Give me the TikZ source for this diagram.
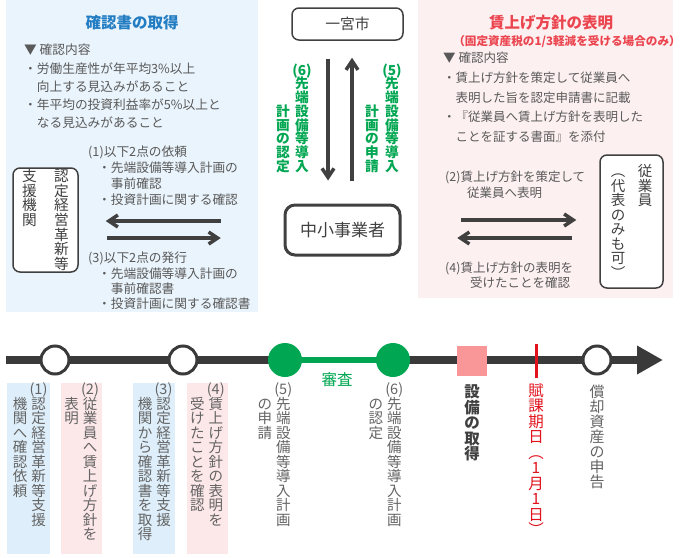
\documentclass[tikz,border=0pt]{standalone}
\usepackage{fontspec}
\setmainfont{Noto Sans CJK JP}
\usetikzlibrary{arrows.meta,positioning}

\definecolor{panelblue}{RGB}{234,244,252}
\definecolor{stripblue}{RGB}{222,239,251}
\definecolor{panelpink}{RGB}{253,240,241}
\definecolor{strippink}{RGB}{252,231,233}
\definecolor{titleblue}{RGB}{35,125,195}
\definecolor{titlered}{RGB}{235,70,80}
\definecolor{okgreen}{RGB}{0,166,81}
\definecolor{inkgray}{RGB}{64,64,64}
\definecolor{textgray}{RGB}{89,89,89}
\definecolor{labelgray}{RGB}{100,100,100}
\definecolor{linegray}{RGB}{58,58,58}
\definecolor{acqpink}{RGB}{249,150,152}
\definecolor{taxred}{RGB}{225,20,30}

% 縦書き
\ExplSyntaxOn
\NewDocumentCommand \tate { O{1em} m }
  {
    \vtop
      {
        \baselineskip = #1 \relax
        \lineskiplimit = -\maxdimen
        \tl_map_inline:nn {#2} { \hbox_to_wd:nn {1em} { \hss ##1 \hss } }
      }
  }
\ExplSyntaxOff

\begin{document}
\begin{tikzpicture}[
    x=1pt, y=-1pt,
    every node/.style={inner sep=0pt},
    paneltitle/.style={font=\fontsize{15.5pt}{18pt}\selectfont\bfseries},
    body/.style={anchor=north west, align=left, text=textgray},
    orgbox/.style={draw=inkgray, line width=1.5pt, rounded corners=7pt, fill=white, text=inkgray},
    bigarrow/.style={line width=3.5pt, draw=inkgray, -{Straight Barb[length=9pt,width=12pt]}},
    greentate/.style={anchor=base, text=okgreen, font=\fontsize{13.7pt}{13.7pt}\selectfont\bfseries},
    tlabel/.style={anchor=base, text=labelgray, font=\fontsize{14.5pt}{14.5pt}\selectfont},
    opendot/.style={circle, draw=linegray, line width=3pt, fill=white, minimum size=28pt},
    greendot/.style={circle, fill=okgreen, minimum size=34pt}
]
\useasboundingbox (0,0) rectangle (690,557);

% パネル
\fill[panelblue] (6,0) rectangle (258,312);
\fill[panelpink] (418,0) rectangle (673,298);

% 確認書の取得
\node[paneltitle, text=titleblue] (kakunin) at (132,23) {確認書の取得};
\node[body, font=\fontsize{12.7pt}{18.2pt}\selectfont] (kakuninlist) at (24,44)
    {▼ 確認内容\\・労働生産性が年平均3\%以上\\\hspace*{1em}向上する見込みがあること\\・年平均の投資利益率が5\%以上と\\\hspace*{1em}なる見込みがあること};
\node[orgbox, minimum width=65pt, minimum height=104pt, font=\fontsize{14.7pt}{14.7pt}\selectfont] (shien) at (45.5,220)
    {\tate{支援機関}\kern17.3pt\tate{認定経営革新等}};
\node[body, font=\fontsize{12.7pt}{16pt}\selectfont] (irai) at (88,146)
    {(1)以下2点の依頼\\\hspace*{10pt}・先端設備等導入計画の\\\hspace*{22.7pt}事前確認\\\hspace*{10pt}・投資計画に関する確認};
\node[body, font=\fontsize{12.7pt}{15.3pt}\selectfont] (hakko) at (88,252)
    {(3)以下2点の発行\\\hspace*{10pt}・先端設備等導入計画の\\\hspace*{22.7pt}事前確認書\\\hspace*{10pt}・投資計画に関する確認書};

% 一宮市と中小事業者
\node[orgbox, minimum width=111pt, minimum height=32pt, font=\fontsize{14.8pt}{14.8pt}\selectfont] (city) at (347.5,24) {一宮市};
\node[orgbox, line width=3pt, rounded corners=10pt, minimum width=115pt, minimum height=50pt, font=\fontsize{17pt}{17pt}\selectfont] (sme) at (342.5,230) {中小事業者};
\node[greentate] (nintei) at (292.5,75.2) {\tate{{}{}{}計画の認定}\kern5.3pt\tate{{(6)}先端設備等導入}};
\node[greentate] (shinsei) at (382,75.2) {\tate{{}{}{}計画の申請}\kern6.3pt\tate{{(5)}先端設備等導入}};

% 賃上げ方針の表明
\node[paneltitle, text=titlered] (chinage) at (551,23) {賃上げ方針の表明};
\node[text=titlered, font=\fontsize{11.6pt}{12pt}\selectfont\bfseries] (chinagesub) at (567,42) {（固定資産税の1/3軽減を受ける場合のみ）};
\node[body, font=\fontsize{12.5pt}{19.7pt}\selectfont] (chinagelist) at (443,52)
    {▼ 確認内容\\・賃上げ方針を策定して従業員へ\\\hspace*{1em}表明した旨を認定申請書に記載\\・『従業員へ賃上げ方針を表明した\\\hspace*{1em}ことを証する書面』を添付};
\node[orgbox, minimum width=63pt, minimum height=133pt, font=\fontsize{14.5pt}{14.5pt}\selectfont] (jugyoin) at (631.5,221.5)
    {\tate{︵代表のみも可︶}\kern12.5pt\tate{従業員}};
\node[body, font=\fontsize{12.5pt}{16pt}\selectfont] (hyomei) at (445,171) {(2)賃上げ方針を策定して\\\hspace*{22pt}従業員へ表明};
\node[body, font=\fontsize{12.5pt}{15pt}\selectfont] (uketa) at (445,262) {(4)賃上げ方針の表明を\\\hspace*{25pt}受けたことを確認};

% 矢印
\draw[bigarrow] ([xshift=142pt,yshift=-1pt]shien.east) -- ([xshift=27pt,yshift=-1pt]shien.east);
\draw[bigarrow] ([xshift=28pt,yshift=-18pt]shien.east) -- ([xshift=142pt,yshift=-18pt]shien.east);
\draw[bigarrow] ([xshift=-19.5pt,yshift=-18pt]city.south) -- ([xshift=-14.5pt,yshift=23pt]sme.north);
\draw[bigarrow] ([xshift=9.5pt,yshift=23pt]sme.north) -- ([xshift=4.5pt,yshift=-17pt]city.south);
\draw[bigarrow] ([xshift=-138pt,yshift=1.5pt]jugyoin.west) -- ([xshift=-23pt,yshift=1.5pt]jugyoin.west);
\draw[bigarrow] ([xshift=-27pt,yshift=-16.5pt]jugyoin.west) -- ([xshift=-142pt,yshift=-16.5pt]jugyoin.west);

% タイムライン
\coordinate (tl-start) at (6,360);
\coordinate (tl-end) at (663,360);
\coordinate (p1) at (55,360);
\coordinate (p3) at (183,360);
\coordinate (p5) at (285,360);
\coordinate (p6) at (393,360);
\coordinate (pdecl) at (597,360);
\draw[line width=8pt, draw=linegray] (tl-start) -- (p5);
\draw[line width=8pt, draw=linegray, -{Triangle[length=26pt,width=27pt]}] (p6) -- (tl-end);
\draw[line width=6pt, draw=okgreen] (p5) -- (p6);
\node[opendot] (n1) at (p1) {};
\node[opendot] (n3) at (p3) {};
\node[greendot] (n5) at (p5) {};
\node[greendot] (n6) at (p6) {};
\node[fill=acqpink, minimum size=30pt] (acq) at (472,361) {};
\node[fill=taxred, minimum width=3pt, minimum height=34pt] (fuka) at (536,361) {};
\node[opendot] (ndecl) at (pdecl) {};
\node[text=okgreen, font=\fontsize{15.5pt}{15.5pt}\selectfont] (shinsa) at (337,380) {審査};

% ラベル
\fill[stripblue] (7,383) rectangle (50,554);
\fill[strippink] (61,383) rectangle (102,554);
\fill[stripblue] (133,383) rectangle (175,554);
\fill[strippink] (187,383) rectangle (228,554);
\node[tlabel] (l1) at (29.25,394.5) {\tate{{}機関へ確認依頼}\kern4pt\tate{{(1)}認定経営革新等支援}};
\node[tlabel] (l2) at (80.75,394.5) {\tate{{}表明}\kern4pt\tate{{(2)}従業員へ賃上げ方針を}};
\node[tlabel] (l3) at (154.25,394.5) {\tate{{}機関から確認書を取得}\kern4pt\tate{{(3)}認定経営革新等支援}};
\node[tlabel] (l4) at (206.5,394.5) {\tate{{}受けたことを確認}\kern4pt\tate{{(4)}賃上げ方針の表明を}};
\node[tlabel] (l5) at (274,394.5) {\tate{{}の申請}\kern4pt\tate{{(5)}先端設備等導入計画}};
\node[tlabel] (l6) at (385,394.5) {\tate{{}の認定}\kern4pt\tate{{(6)}先端設備等導入計画}};
\node[tlabel, text=inkgray, font=\fontsize{15.5pt}{15.5pt}\selectfont\bfseries] (acqlabel) at (472,397.6) {\tate{設備の取得}};
\node[tlabel, text=taxred, font=\fontsize{15.5pt}{15.5pt}\selectfont] (fukalabel) at (536,396) {\tate{賦課期日︵1月1日︶}};
\node[tlabel, font=\fontsize{15pt}{15pt}\selectfont] (decllabel) at (597,397.5) {\tate{償却資産の申告}};

\end{tikzpicture}
\end{document}
